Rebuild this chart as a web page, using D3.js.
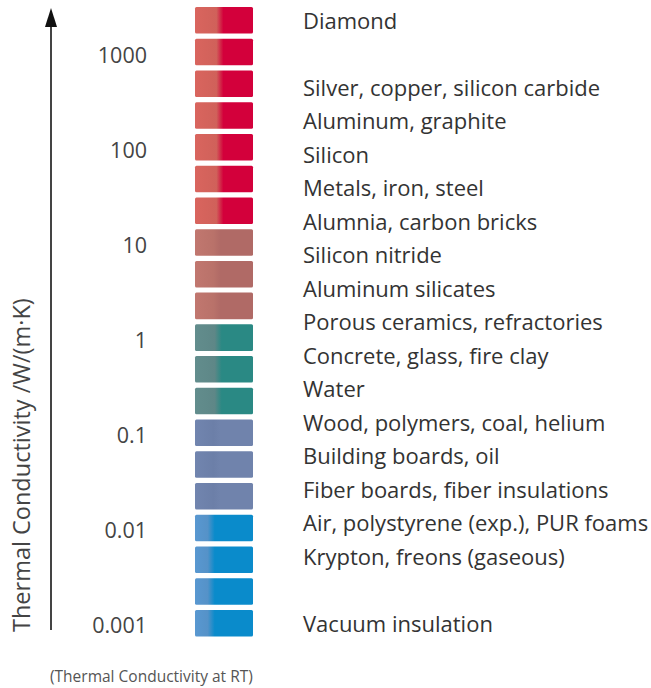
<!DOCTYPE html>
<html lang="en">
<head>
    <meta charset="UTF-8">
    <title>Thermal conductivity scale</title>
    <script src="https://d3js.org/d3.v7.min.js"></script>
</head>
<style>
    body {
        margin: 0;
        padding: 0;
        background: #fff;
    }
    svg {
        display: block;
        font-family: "Open Sans", "Noto Sans", sans-serif;
    }
</style>
<body>
<div class="chart"></div>
<script>
  /** DATA */
  var materials = [
    'Diamond', '', 'Silver, copper, silicon carbide', 'Aluminum, graphite', 'Silicon',
    'Metals, iron, steel', 'Alumnia, carbon bricks', 'Silicon nitride', 'Aluminum silicates',
    'Porous ceramics, refractories', 'Concrete, glass, fire clay', 'Water',
    'Wood, polymers, coal, helium', 'Building boards, oil', 'Fiber boards, fiber insulations',
    'Air, polystyrene (exp.), PUR foams', 'Krypton, freons (gaseous)', '', 'Vacuum insulation'
  ];
  // colour group of each cell in the bar, top to bottom (20 cells)
  var cellGroups = [0, 0, 0, 0, 0, 0, 0, 1, 1, 1, 2, 2, 2, 3, 3, 3, 4, 4, 4, 4];
  var groupLeft = ['#d0615a', '#b9726a', '#5e8787', '#6c7fa8', '#5592c8'];
  var groupRight = ['#d3003b', '#b06a66', '#2a8984', '#7083ac', '#0a8bcb'];
  var groupSplit = [0.45, 0.4, 0.42, 0.4, 0.3];
  var tickValues = [1000, 100, 10, 1, 0.1, 0.01, 0.001];
  var tickLabels = ['1000', '100', '10', '1', '0.1', '0.01', '0.001'];

  /** LAYOUT */
  var width = 651, height = 688;
  var cellLeftX = 195, cellWidthX = 58;

  var svg = d3.select('.chart').append('svg')
    .attr('width', width)
    .attr('height', height);

  // the cells and the labels do not share the same pitch
  var cellScale = d3.scaleBand()
    .domain(d3.range(cellGroups.length))
    .range([7, 636.5])
    .paddingInner(5.2 / 31.75);

  var labelScale = d3.scalePoint()
    .domain(d3.range(materials.length))
    .range([21, 624]);

  var valueScale = d3.scaleLog()
    .domain([0.001, 1000])
    .range([625, 55]);

  /** gradients, one per colour group */
  var defs = svg.append('defs');
  groupLeft.forEach(function (c, g) {
    var grad = defs.append('linearGradient')
      .attr('id', 'grad' + g)
      .attr('x1', 0).attr('x2', 1).attr('y1', 0).attr('y2', 0);
    grad.append('stop').attr('offset', 0).attr('stop-color', d3.color(c).brighter(0.12));
    grad.append('stop').attr('offset', groupSplit[g] - 0.08).attr('stop-color', c);
    grad.append('stop').attr('offset', groupSplit[g] + 0.04).attr('stop-color', groupRight[g]);
    grad.append('stop').attr('offset', 1).attr('stop-color', groupRight[g]);
  });

  /** cells */
  svg.append('g').selectAll('rect')
    .data(cellGroups)
    .enter().append('rect')
    .attr('x', cellLeftX)
    .attr('y', function (_, i) { return cellScale(i); })
    .attr('width', cellWidthX)
    .attr('height', cellScale.bandwidth())
    .attr('rx', 1.5)
    .attr('fill', function (g) { return 'url(#grad' + g + ')'; });

  /** material labels */
  svg.append('g').selectAll('text')
    .data(materials)
    .enter().append('text')
    .attr('x', 303)
    .attr('y', function (_, i) { return labelScale(i); })
    .attr('dy', '0.35em')
    .attr('font-size', 22)
    .attr('fill', '#333')
    .text(function (d) { return d; });

  /** value ticks */
  svg.append('g').selectAll('text')
    .data(tickValues)
    .enter().append('text')
    .attr('x', 147)
    .attr('y', function (d) { return valueScale(d); })
    .attr('dy', '0.35em')
    .attr('text-anchor', 'end')
    .attr('font-size', 21.5)
    .attr('fill', '#444')
    .text(function (_, i) { return tickLabels[i]; });

  /** arrow */
  svg.append('line')
    .attr('x1', 51).attr('x2', 51)
    .attr('y1', 630).attr('y2', 24)
    .attr('stroke', '#444')
    .attr('stroke-width', 2);
  svg.append('path')
    .attr('d', 'M51,8 L45,27 L57,27 Z')
    .attr('fill', '#111');

  /** axis title */
  svg.append('text')
    .attr('transform', 'translate(30,632) rotate(-90)')
    .attr('font-size', 23.5)
    .attr('fill', '#444')
    .text('Thermal Conductivity /W/(m·K)');

  /** note */
  svg.append('text')
    .attr('x', 50)
    .attr('y', 682)
    .attr('font-size', 15.5)
    .attr('fill', '#555')
    .text('(Thermal Conductivity at RT)');
</script>
</body>
</html>
